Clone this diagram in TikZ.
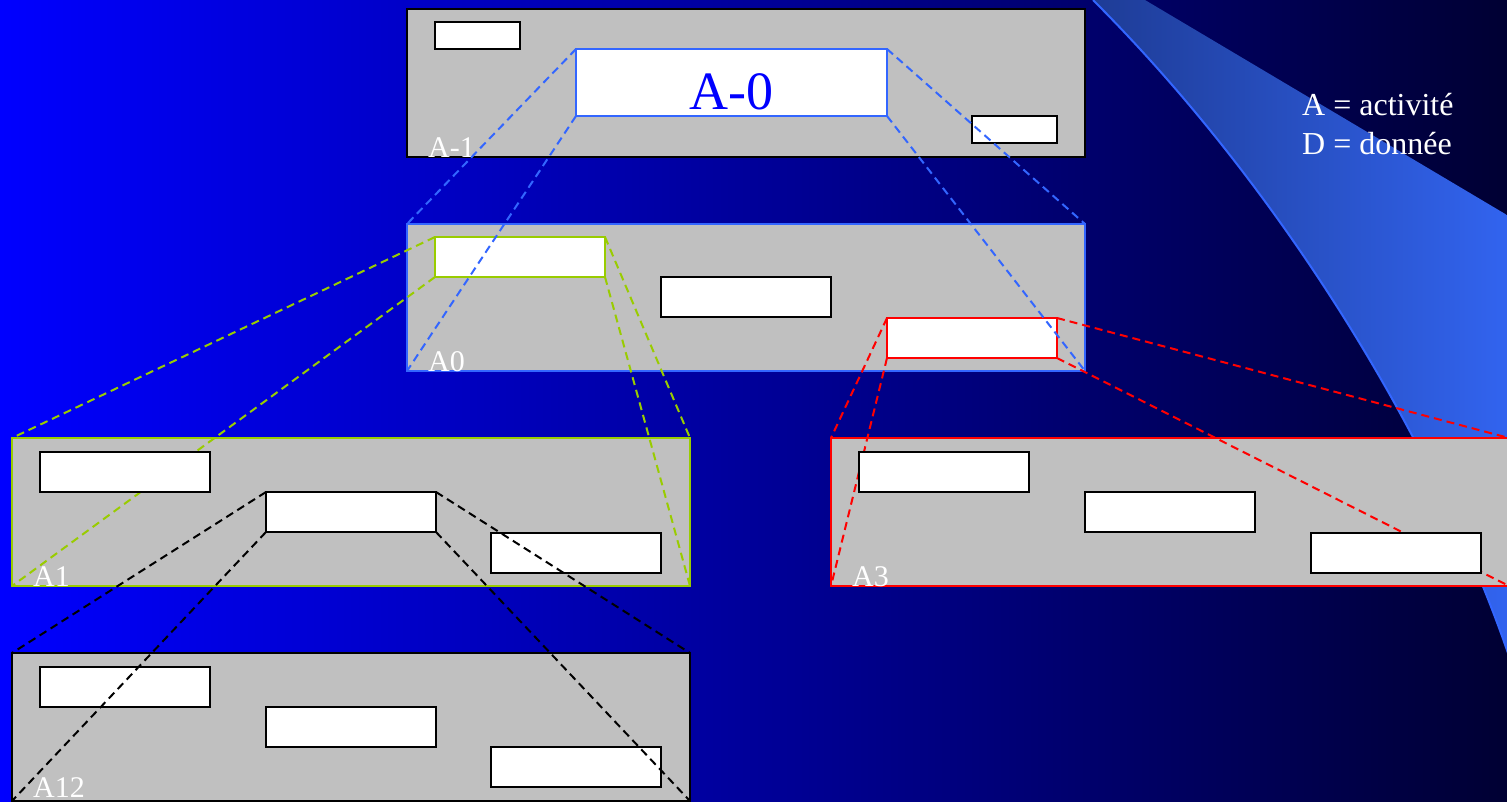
\documentclass[tikz,border=0pt]{standalone}
\usepackage{fontspec}
\setmainfont{Liberation Serif}
\usetikzlibrary{positioning}

\definecolor{gris}{HTML}{C0C0C0}
\definecolor{bleuclair}{HTML}{3366FF}
\definecolor{vert}{HTML}{99CC00}
\definecolor{rouge}{HTML}{FF0000}
\definecolor{fondg}{HTML}{0000FF}
\definecolor{fondd}{HTML}{000033}
\definecolor{vagueg}{HTML}{1E3C96}
\definecolor{vagued}{HTML}{3264F0}

\tikzset{
  panel/.style={draw=black,fill=gris,line width=2pt,anchor=north west,inner sep=0pt,outer sep=0pt,minimum width=678pt,minimum height=148pt},
  act/.style={draw=black,fill=white,line width=2pt,anchor=north west,inner sep=0pt,outer sep=0pt,minimum width=170pt,minimum height=40pt},
  lien/.style={line width=2pt,dash pattern=on 8pt off 5pt},
  niveau/.style={text=white,font=\fontsize{30}{30}\selectfont,anchor=base west,inner sep=0pt},
  legende/.style={text=white,font=\fontsize{32}{32}\selectfont,anchor=base west,inner sep=0pt},
}

\begin{document}
\begin{tikzpicture}[x=1pt,y=-1pt]
  \useasboundingbox (0,0) rectangle (1507,801);
  \clip (0,0) rectangle (1507,801);
  % fond
  \shade[left color=fondg,right color=fondd] (0,0) rectangle (1507,801);
  \shade[left color=vagueg,right color=vagued] (1093,0) .. controls (1293,200) and (1444,460) .. (1512,665) -- (1512,218) -- (1145,0) -- cycle;
  \draw[bleuclair,line width=2pt] (1093,0) .. controls (1293,200) and (1444,460) .. (1512,665);
  % legende
  \node[legende] (leg1) at (1302,115) {A = activit\'e};
  \node[legende] (leg2) at (1302,154) {D = donn\'ee};
  % niveau A-1
  \node[panel] (am1) at (407,9) {};
  \node[act,minimum width=85pt,minimum height=27pt] (am1a) at (435,22) {};
  \node[act,minimum width=85pt,minimum height=27pt] (am1c) at (972,116) {};
  \node[act,draw=bleuclair,minimum width=311pt,minimum height=67pt,text height=55pt,text=fondg,font=\fontsize{54}{54}\selectfont] (a0box) at (576,49) {A-0};
  \node[niveau] (lam1) at (428,157) {A-1};
  % niveau A0
  \node[panel,draw=bleuclair,minimum height=147pt] (a0) at (407,224) {};
  \node[act,draw=vert] (a0a) at (435,237) {};
  \node[act] (a0b) at (661,277) {};
  \node[act,draw=rouge] (a0c) at (887,318) {};
  \node[niveau] (la0) at (428,371) {A0};
  \foreach \c in {north west,south west,north east,south east}
    \draw[lien,bleuclair] (a0box.\c) -- (a0.\c);
  % niveau A1
  \node[panel,draw=vert] (a1) at (12,438) {};
  \foreach \c in {north west,south west,north east,south east}
    \draw[lien,vert] (a0a.\c) -- (a1.\c);
  \node[act] (a1a) at (40,452) {};
  \node[act] (a1b) at (266,492) {};
  \node[act] (a1c) at (491,533) {};
  \node[niveau] (la1) at (33,586) {A1};
  % niveau A12
  \node[panel] (a12) at (12,653) {};
  \node[act] (a12a) at (40,667) {};
  \node[act] (a12b) at (266,707) {};
  \node[act] (a12c) at (491,747) {};
  \node[niveau] (la12) at (33,797) {A12};
  \foreach \c in {north west,south west,north east,south east}
    \draw[lien,black] (a1b.\c) -- (a12.\c);
  % niveau A3
  \node[panel,draw=rouge] (a3) at (831,438) {};
  \foreach \c in {north west,south west,north east,south east}
    \draw[lien,rouge] (a0c.\c) -- (a3.\c);
  \node[act] (a3a) at (859,452) {};
  \node[act] (a3b) at (1085,492) {};
  \node[act] (a3c) at (1311,533) {};
  \node[niveau] (la3) at (852,586) {A3};
\end{tikzpicture}
\end{document}
